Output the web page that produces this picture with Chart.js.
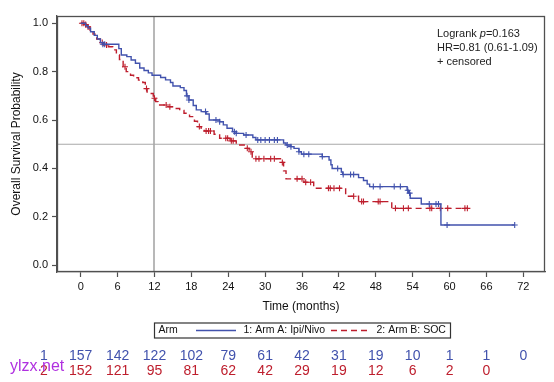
<!DOCTYPE html>
<html><head><meta charset="utf-8">
<script src="https://cdn.jsdelivr.net/npm/chart.js@4/dist/chart.umd.min.js"></script>
<style>html,body{margin:0;padding:0;background:#fff;}#wrap{width:554px;height:382px;position:relative;}</style>
</head><body><div id="wrap"><canvas id="c" width="554" height="382"></canvas></div>
<script>
// ---- data ----
const xTicks = [0,6,12,18,24,30,36,42,48,54,60,66,72];
const yTicks = [0,0.2,0.4,0.6,0.8,1.0];
const armATimes = [0,0.8,1.2,1.6,2.2,2.7,3.2,3.6,6.2,6.6,7.5,8.2,8.9,9.6,10.3,11.0,11.6,13.0,13.8,14.6,15.0,16.2,16.8,17.2,17.6,18.3,18.8,19.6,20.4,20.9,22.6,23.2,23.8,24.7,25.3,26.5,28.0,28.5,33.0,33.4,34.2,34.7,35.5,35.9,39.3,40.4,40.7,40.9,42.4,42.6,45.2,46.0,46.6,47.0,53.1,53.3,53.6,55.4,58.6,70.6];
const armASurv  = [1.0,0.99,0.98,0.965,0.95,0.935,0.92,0.913,0.895,0.869,0.862,0.848,0.835,0.815,0.805,0.795,0.785,0.776,0.766,0.755,0.741,0.734,0.722,0.70,0.683,0.66,0.642,0.635,0.625,0.60,0.593,0.58,0.566,0.552,0.545,0.538,0.528,0.518,0.505,0.497,0.49,0.483,0.469,0.459,0.449,0.435,0.415,0.40,0.385,0.375,0.362,0.35,0.335,0.325,0.31,0.298,0.277,0.253,0.166,0.166];
const armBTimes = [0,0.6,1.0,1.5,2.0,2.6,3.2,3.7,4.5,5.2,5.8,6.3,6.9,7.4,8.1,8.6,9.4,10.1,10.5,10.8,11.8,12.2,12.6,14.0,15.3,16.1,16.8,17.7,18.5,19.0,19.6,20.1,21.7,22.6,24.3,25.3,26.6,27.4,27.9,32.5,33.0,33.4,36.3,37.9,43.1,45.2,50.6,62.9];
const armBSurv  = [1.0,0.995,0.985,0.972,0.955,0.935,0.92,0.91,0.903,0.89,0.869,0.85,0.82,0.80,0.785,0.775,0.765,0.755,0.73,0.71,0.69,0.676,0.662,0.655,0.648,0.64,0.628,0.614,0.595,0.573,0.566,0.555,0.541,0.525,0.514,0.497,0.483,0.469,0.44,0.425,0.39,0.357,0.343,0.318,0.285,0.263,0.235,0.235];
const armACensor = [3.6,3.9,17.3,17.6,20.3,22.0,22.6,25.0,25.3,26.9,28.8,29.3,30.0,30.7,31.5,32.0,33.6,34.2,35.5,36.3,37.1,39.3,41.8,42.7,43.9,44.4,47.6,48.7,51.0,52.0,53.2,53.5,56.7,57.8,58.2,59.6,70.6];
const armBCensor = [0.2,0.5,0.8,1.2,3.5,4.2,7.2,10.7,12.0,13.9,14.5,19.3,20.4,20.8,21.1,23.6,23.9,24.5,24.8,27.1,27.7,28.5,29.0,29.8,30.9,31.5,32.8,35.2,36.0,36.6,37.4,40.3,40.6,41.2,42.1,44.4,45.7,46.0,48.4,48.7,51.2,52.5,53.3,56.8,57.1,58.5,59.7,62.5,62.9];
const riskA = [157,142,122,102,79,61,42,31,19,10,1,1,0];
const riskB = [152,121,95,81,62,42,29,19,12,6,2,0];
const armIds = ['1','2'];
const armLabels = ['1: Arm A: Ipi/Nivo','2: Arm B: SOC'];
const legendTitle = 'Arm';
const xTitle = 'Time (months)';
const yTitle = 'Overall Survival Probability';
const statLines = ['HR=0.81 (0.61-1.09)','+ censored'];
const logrankP = '0.163';
const watermark = 'ylzx.net';

// ---- style ----
const BLUE = '#4152ad', RED = '#be1e2d';
const FONT = "'Liberation Sans', Arial, sans-serif";

function survAt(times, surv, t){ let s = surv[0]; for (let i=0;i<times.length;i++){ if (times[i] <= t) s = surv[i]; } return s; }
const pts = (T,S) => T.map((t,i)=>({x:t,y:S[i]}));

const overlay = {
  id:'overlay',
  beforeDatasetsDraw(chart){
    const {ctx, chartArea:a, scales:{x,y}} = chart;
    ctx.save();
    ctx.strokeStyle = '#b8b8b8'; ctx.lineWidth = 2;
    const vx = Math.round(x.getPixelForValue(12));
    ctx.beginPath(); ctx.moveTo(vx, a.top); ctx.lineTo(vx, a.bottom); ctx.stroke();
    ctx.strokeStyle = '#a8a8a8'; ctx.lineWidth = 1.2;
    const hy = y.getPixelForValue(0.5);
    ctx.beginPath(); ctx.moveTo(a.left, hy); ctx.lineTo(a.right, hy); ctx.stroke();
    ctx.restore();
  },
  afterDraw(chart){
    const {ctx, chartArea:a, scales:{x}} = chart;
    ctx.save();
    // frame
    ctx.strokeStyle = '#505050'; ctx.lineWidth = 1.3;
    ctx.strokeRect(a.left+0.5, a.top+0.5, a.right-a.left-1, a.bottom-a.top-1);
    // stats text
    ctx.fillStyle = '#222'; ctx.textBaseline = 'middle'; ctx.textAlign = 'left';
    const sx = a.right - 108;
    ctx.font = '11px ' + FONT;
    let w = ctx.measureText('Logrank ').width;
    ctx.fillText('Logrank ', sx, 33.5);
    ctx.font = 'italic 11px ' + FONT;
    ctx.fillText('p', sx + w, 33.5);
    w += ctx.measureText('p').width;
    ctx.font = '11px ' + FONT;
    ctx.fillText('=' + logrankP, sx + w, 33.5);
    ctx.fillText(statLines[0], sx, 48);
    ctx.fillText(statLines[1], sx, 62);
    // legend box
    ctx.font = '10.5px ' + FONT;
    const bx = 154, by = 322.5, bw = 296, bh = 15, cy = 330.5;
    ctx.strokeStyle = '#333'; ctx.lineWidth = 1.2;
    ctx.strokeRect(bx+0.5, by+0.5, bw, bh);
    ctx.fillStyle = '#111';
    ctx.fillText(legendTitle, bx + 4.5, cy);
    ctx.strokeStyle = BLUE; ctx.lineWidth = 1.3; ctx.setLineDash([]);
    ctx.beginPath(); ctx.moveTo(196, cy); ctx.lineTo(236, cy); ctx.stroke();
    ctx.fillText(armLabels[0], 243.5, cy);
    ctx.strokeStyle = RED; ctx.setLineDash([6,4]);
    ctx.beginPath(); ctx.moveTo(331, cy); ctx.lineTo(370, cy); ctx.stroke();
    ctx.setLineDash([]);
    ctx.fillText(armLabels[1], 376.5, cy);
    // at-risk table
    ctx.font = '14px ' + FONT; ctx.textAlign = 'center';
    const rows = [[riskA, BLUE, 356.5],[riskB, RED, 371]];
    rows.forEach(([vals,col,yy],r)=>{
      ctx.fillStyle = col;
      ctx.fillText(armIds[r], 44, yy);
      vals.forEach((v,i)=> ctx.fillText(String(v), x.getPixelForValue(xTicks[i]), yy));
    });
    // watermark
    ctx.font = '16px ' + FONT; ctx.textAlign = 'left'; ctx.fillStyle = '#b030e0';
    ctx.fillText(watermark, 10, 367);
    ctx.restore();
  }
};

new Chart(document.getElementById('c'), {
  type:'line',
  data:{ datasets:[
    { label:armLabels[0], data:pts(armATimes,armASurv), borderColor:BLUE, borderWidth:1.4, stepped:'before', pointRadius:0, fill:false },
    { label:'censA', data:armACensor.map(t=>({x:t,y:survAt(armATimes,armASurv,t)})), showLine:false, pointStyle:'cross', pointRadius:3, borderColor:BLUE, pointBorderWidth:1.1, pointHoverRadius:0 },
    { label:armLabels[1], data:pts(armBTimes,armBSurv), borderColor:RED, borderWidth:1.4, borderDash:[6,4], stepped:'before', pointRadius:0, fill:false },
    { label:'censB', data:armBCensor.map(t=>({x:t,y:survAt(armBTimes,armBSurv,t)})), showLine:false, pointStyle:'cross', pointRadius:3, borderColor:RED, pointBorderWidth:1.1, pointHoverRadius:0 }
  ]},
  options:{
    responsive:false, animation:false, devicePixelRatio:1,
    layout:{ padding:{ left:0, top:16, right:9, bottom:65 } },
    plugins:{ legend:{display:false}, tooltip:{enabled:false} },
    scales:{
      x:{ type:'linear', min:-3.86, max:75.53,
          afterBuildTicks(s){ s.ticks = xTicks.map(v=>({value:v})); },
          afterFit(s){ s.height = 45; },
          grid:{ drawOnChartArea:false, drawTicks:true, tickLength:5, color:'#505050', tickWidth:1.2 },
          border:{ display:true, color:'#505050', width:1.3 },
          ticks:{ font:{family:FONT, size:11}, color:'#111', padding:3, maxRotation:0, autoSkip:false },
          title:{ display:true, text:xTitle, font:{family:FONT, size:12}, color:'#111', padding:{top:0,bottom:3} } },
      y:{ type:'linear', min:-0.028, max:1.03,
          afterBuildTicks(s){ s.ticks = yTicks.map(v=>({value:v})); },
          afterFit(s){ s.width = 57; },
          grid:{ drawOnChartArea:false, drawTicks:true, tickLength:5, color:'#505050', tickWidth:1.2 },
          border:{ display:true, color:'#505050', width:1.3 },
          ticks:{ font:{family:FONT, size:11}, color:'#111', padding:4, callback:v=>Number(v).toFixed(1) },
          title:{ display:true, text:yTitle, font:{family:FONT, size:12}, color:'#111', padding:{top:9,bottom:0} } }
    }
  },
  plugins:[overlay]
});
</script></body></html>
